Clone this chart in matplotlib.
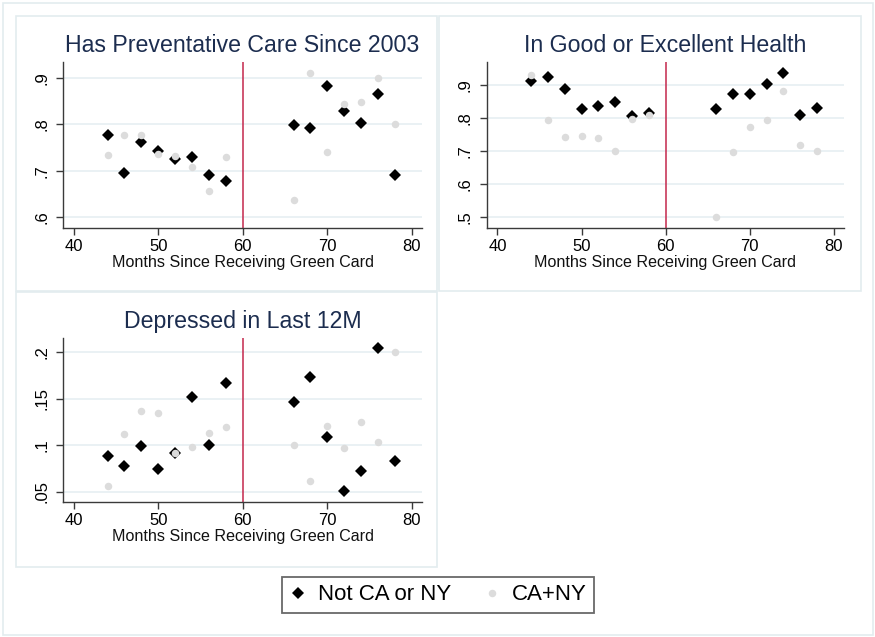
import matplotlib
matplotlib.use("Agg")
import matplotlib.pyplot as plt
from matplotlib.patches import Rectangle
from matplotlib.lines import Line2D
from matplotlib.ticker import FuncFormatter

plt.rcParams['font.family'] = ['Liberation Sans', 'DejaVu Sans']

months = [44, 46, 48, 50, 52, 54, 56, 58, 66, 68, 70, 72, 74, 76, 78]

prev_not = [0.777, 0.695, 0.761, 0.743, 0.725, 0.730, 0.692, 0.679,
            0.799, 0.793, 0.883, 0.828, 0.802, 0.866, 0.692]
prev_cany = [0.734, 0.776, 0.776, 0.737, 0.731, 0.708, 0.657, 0.730,
             0.637, 0.911, 0.740, 0.843, 0.848, 0.899, 0.800]

health_not = [0.912, 0.924, 0.887, 0.828, 0.837, 0.847, 0.806, 0.816,
              0.828, 0.873, 0.873, 0.903, 0.936, 0.808, 0.831]
health_cany = [0.929, 0.793, 0.741, 0.744, 0.738, 0.700, 0.797, 0.808,
               0.500, 0.696, 0.773, 0.795, 0.881, 0.718, 0.700]

dep_not = [0.0888, 0.0773, 0.0995, 0.0740, 0.0913, 0.1519, 0.1002, 0.1666,
           0.1462, 0.1738, 0.1089, 0.0507, 0.0719, 0.2047, 0.0827]
dep_cany = [0.0561, 0.1124, 0.1368, 0.1347, 0.0920, 0.0981, 0.1135, 0.1196,
            0.0999, 0.0615, 0.1211, 0.0970, 0.1254, 0.1031, 0.2007]

titles = ["Has Preventative Care Since 2003", "In Good or Excellent Health",
          "Depressed in Last 12M"]
x_ticks = [40, 50, 60, 70, 80]
y_ticks = [[0.6, 0.7, 0.8, 0.9], [0.5, 0.6, 0.7, 0.8, 0.9], [0.05, 0.1, 0.15, 0.2]]
cutoff = 60
xlabel = "Months Since Receiving Green Card"
legend_labels = ["Not CA or NY", "CA+NY"]

W, H = 875, 637
fig = plt.figure(figsize=(W / 100, H / 100), dpi=100)
fig.patch.set_facecolor('white')

def px_rect(l, t, r, b):
    return [l / W, 1 - b / H, (r - l) / W, (b - t) / H]

border_col = '#e3ecef'
# outer border and panel borders
for (l, t, r, b) in [(3, 3, 873, 635), (16, 16, 437, 291), (439, 16, 861, 291), (16, 292, 437, 567)]:
    fig.patches.append(Rectangle((l / W, 1 - b / H), (r - l) / W, (b - t) / H,
                                 transform=fig.transFigure, fill=False,
                                 edgecolor=border_col, linewidth=1.2))

axes_px = [(63, 62, 422, 228), (486.7, 62, 844, 228), (63, 337.7, 422, 502)]
ylims = [(0.577, 0.934), (0.4656, 0.970), (0.0389, 0.2158)]
series = [(prev_not, prev_cany), (health_not, health_cany), (dep_not, dep_cany)]

fmt = FuncFormatter(lambda v, p: f"{v:g}".lstrip('0'))

for i in range(3):
    ax = fig.add_axes(px_rect(*axes_px[i]))
    not_vals, cany_vals = series[i]
    ax.set_xlim(38.73, 81.2)
    ax.set_ylim(*ylims[i])
    ax.set_xticks(x_ticks)
    ax.set_yticks(y_ticks[i])
    ax.yaxis.set_major_formatter(fmt)
    ax.grid(axis='y', color='#e4eef1', linewidth=1.1)
    ax.set_axisbelow(True)
    ax.axvline(cutoff, color='#c8385a', linewidth=1.2, zorder=1.5)
    ax.plot(months, not_vals, linestyle='none', marker='D', markersize=6.3,
            color='black', markeredgewidth=0, zorder=3)
    ax.plot(months, cany_vals, linestyle='none', marker='o', markersize=5.4,
            color='#dcdcdc', markeredgewidth=0, zorder=4)
    for s in ['top', 'right']:
        ax.spines[s].set_visible(False)
    for s in ['left', 'bottom']:
        ax.spines[s].set_color('#3a3a3a')
        ax.spines[s].set_linewidth(1.0)
    ax.tick_params(axis='both', direction='out', length=5, width=1,
                   color='#3a3a3a', labelsize=12, labelcolor='black')
    ax.tick_params(axis='x', pad=3)
    ax.tick_params(axis='y', pad=5)
    for lab in ax.get_yticklabels():
        lab.set_rotation(90)
        lab.set_va('center')
    ax.set_xlabel(xlabel, fontsize=11.6, labelpad=1, color='#111111')
    ax.set_title(titles[i], fontsize=16.7, color='#1c2d4f', pad=7)

# legend
handles = [Line2D([], [], linestyle='none', marker='D', markersize=6.3, color='black', markeredgewidth=0),
           Line2D([], [], linestyle='none', marker='o', markersize=5.4, color='#dcdcdc', markeredgewidth=0)]
leg = fig.legend(handles, legend_labels, loc='center', ncol=2,
                 bbox_to_anchor=(438 / W, 1 - 595 / H), fontsize=16,
                 frameon=True, fancybox=False, handlelength=0.8,
                 handletextpad=0.5, columnspacing=1.4, borderpad=0.35,
                 borderaxespad=0)
leg.get_frame().set_edgecolor('#444444')
leg.get_frame().set_linewidth(1.3)

fig.savefig('out.png', dpi=100)
